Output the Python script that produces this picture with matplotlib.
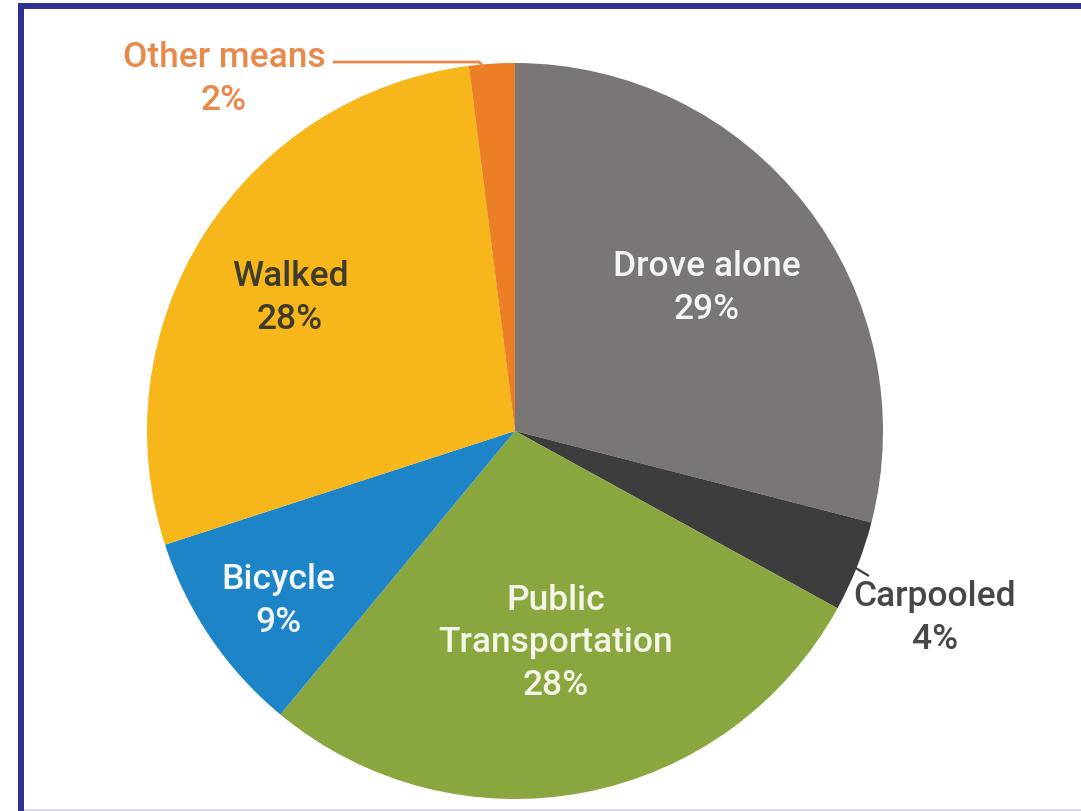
import matplotlib
matplotlib.use("Agg")
import matplotlib.pyplot as plt
from matplotlib.patches import Rectangle

plt.rcParams['font.family'] = ['Roboto', 'DejaVu Sans']

# Commute mode shares (percent), clockwise from 12 o'clock
modes = ["Drove alone", "Carpooled", "Public\nTransportation", "Bicycle", "Walked", "Other means"]
shares = [29, 4, 28, 9, 28, 2]

slice_colors = ["#7b7676", "#3d3d3d", "#8aa63e", "#1d84c8", "#f7b61a", "#ec7e26"]
text_colors = ["#f4f4f4", "#474747", "#f6f6e8", "#f4f8fc", "#3d3a2e", "#e8894a"]

# Label anchor points in pixel space (x from left, y from top)
label_xy = [(707, 288), (935, 618), (556, 643), (278, 601), (290, 298), (224, 79)]

W, H = 1081, 812
fig = plt.figure(figsize=(W / 100, H / 100), dpi=100)
ax = fig.add_axes([0, 0, 1, 1])

cx, cy, R = 515, H - 432, 368
ax.pie(shares, colors=slice_colors, startangle=90, counterclock=False,
       center=(cx, cy), radius=R, frame=False,
       wedgeprops=dict(linewidth=0, antialiased=True))

ax.set_xlim(0, W)
ax.set_ylim(0, H)
ax.set_aspect('equal')
ax.axis('off')

for name, val, (px, py), tc in zip(modes, shares, label_xy, text_colors):
    ax.text(px, H - py, f"{name}\n{val}%", ha='center', va='center',
            fontsize=25.5, fontweight='medium', color=tc, linespacing=1.36)

# Leader line for the thin "Other means" slice
ax.plot([333, 479, 484], [H - 63, H - 63, H - 68], color="#e8894a", lw=2,
        solid_capstyle='butt')
# Leader tick for the "Carpooled" slice
ax.plot([854, 869], [H - 568, H - 577], color="#3d3d3d", lw=1.6,
        solid_capstyle='butt')

# Page frame
ax.add_patch(Rectangle((18, 0), 6, H - 4, color="#2e3192", lw=0, zorder=5))
ax.add_patch(Rectangle((18, H - 10), W - 18, 6, color="#2e3192", lw=0, zorder=5))
ax.add_patch(Rectangle((24, 0), W - 24, 2, color="#dcd8ee", lw=0, zorder=5))

fig.savefig("out.png", dpi=100)
